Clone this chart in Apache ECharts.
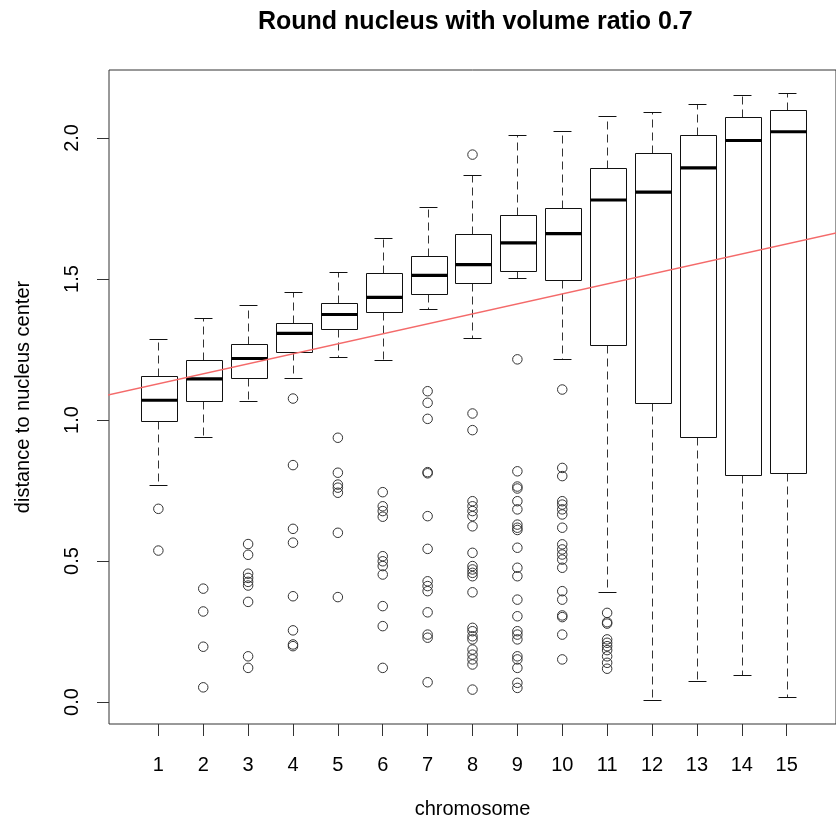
<!DOCTYPE html>
<html>
<head>
<meta charset="utf-8">
<title>Round nucleus with volume ratio 0.7</title>
<script src="https://cdn.jsdelivr.net/npm/echarts@6/dist/echarts.min.js"></script>
<style>
  html, body { margin: 0; padding: 0; background: #fff; }
  #chart { width: 836px; height: 824px; }
</style>
</head>
<body>
<div id="chart"></div>
<script>
// Per-chromosome box statistics (distance to nucleus center)
const chromosomes   = [1, 2, 3, 4, 5, 6, 7, 8, 9, 10, 11, 12, 13, 14, 15];
const lowerWhisker  = [0.768, 0.939, 1.069, 1.150, 1.224, 1.211, 1.392, 1.291, 1.502, 1.217, 0.389, 0.006, 0.073, 0.096, 0.018];
const lowerHinge    = [0.998, 1.067, 1.150, 1.242, 1.321, 1.382, 1.448, 1.486, 1.528, 1.498, 1.265, 1.061, 0.940, 0.804, 0.813];
const medians       = [1.070, 1.146, 1.218, 1.307, 1.374, 1.435, 1.513, 1.551, 1.628, 1.661, 1.780, 1.808, 1.894, 1.991, 2.022];
const upperHinge    = [1.155, 1.211, 1.270, 1.345, 1.416, 1.520, 1.581, 1.660, 1.726, 1.750, 1.894, 1.948, 2.011, 2.075, 2.099];
const upperWhisker  = [1.288, 1.362, 1.406, 1.455, 1.524, 1.644, 1.756, 1.868, 2.012, 2.024, 2.077, 2.093, 2.119, 2.151, 2.158];

// Points beyond the whiskers, one list per chromosome
const outliers = [
  [0.685, 0.537],
  [0.402, 0.321, 0.196, 0.052],
  [0.560, 0.522, 0.455, 0.440, 0.426, 0.413, 0.355, 0.162, 0.121],
  [1.076, 0.840, 0.614, 0.565, 0.375, 0.254, 0.204, 0.198],
  [0.937, 0.813, 0.771, 0.760, 0.742, 0.600, 0.372],
  [0.744, 0.694, 0.677, 0.657, 0.517, 0.499, 0.482, 0.452, 0.340, 0.269, 0.121],
  [1.102, 1.061, 1.004, 0.815, 0.811, 0.659, 0.543, 0.428, 0.411, 0.393, 0.318, 0.239, 0.228, 0.070],
  [1.941, 1.023, 0.964, 0.712, 0.694, 0.677, 0.659, 0.623, 0.529, 0.482, 0.470, 0.458, 0.446, 0.389, 0.263, 0.251, 0.233, 0.222, 0.186, 0.168, 0.151, 0.133, 0.044],
  [1.215, 0.818, 0.764, 0.757, 0.712, 0.683, 0.629, 0.618, 0.610, 0.547, 0.476, 0.446, 0.363, 0.304, 0.251, 0.239, 0.222, 0.162, 0.151, 0.121, 0.068, 0.050],
  [1.108, 0.830, 0.801, 0.712, 0.700, 0.683, 0.665, 0.618, 0.559, 0.541, 0.523, 0.505, 0.476, 0.393, 0.363, 0.307, 0.301, 0.239, 0.151],
  [0.316, 0.283, 0.278, 0.222, 0.210, 0.198, 0.184, 0.162, 0.139, 0.118],
  [], [], [], []
];

// Fitted trend of distance against chromosome index
const trendIntercept = 1.0932;
const trendSlope = 0.03537;

// Axis ticks
const xTicks = [1, 2, 3, 4, 5, 6, 7, 8, 9, 10, 11, 12, 13, 14, 15];
const yTicks = [0, 0.5, 1, 1.5, 2];

const X_MIN = -0.1, X_MAX = 16.1;
const Y_MIN = -0.078, Y_MAX = 2.241;
const BOX_WIDTH = 0.8;
const FONT = '"Liberation Sans", Arial, Helvetica, sans-serif';

const boxData = chromosomes.map((c, i) => [c, lowerWhisker[i], lowerHinge[i], medians[i], upperHinge[i], upperWhisker[i]]);
const outlierData = [];
outliers.forEach((list, i) => list.forEach(v => outlierData.push([chromosomes[i], v])));
const trendData = [X_MIN - 1, X_MAX + 1].map(x => [x, trendIntercept + trendSlope * x]);

function renderBox(params, api) {
  const x = api.value(0);
  const half = api.size([BOX_WIDTH, 0])[0] / 2;
  const cap = half / 2;
  const cx = Math.round(api.coord([x, 0])[0]) + 0.5;
  const y = v => Math.round(api.coord([x, v])[1]) + 0.5;
  const yLo = y(api.value(1)), yQ1 = y(api.value(2)), yMed = api.coord([x, api.value(3)])[1];
  const yQ3 = y(api.value(4)), yHi = y(api.value(5));
  const left = Math.round(cx - half) + 0.5;
  const width = Math.round(2 * half);
  const solid = { stroke: '#111', lineWidth: 1, fill: null };
  const dashed = { stroke: '#333', lineWidth: 1, lineDash: [8, 5], fill: null };
  return {
    type: 'group',
    children: [
      { type: 'line', shape: { x1: cx, y1: yQ3, x2: cx, y2: yHi }, style: dashed },
      { type: 'line', shape: { x1: cx, y1: yQ1, x2: cx, y2: yLo }, style: dashed },
      { type: 'line', shape: { x1: cx - cap, y1: yHi, x2: cx + cap, y2: yHi }, style: solid },
      { type: 'line', shape: { x1: cx - cap, y1: yLo, x2: cx + cap, y2: yLo }, style: solid },
      { type: 'rect', shape: { x: left, y: yQ3, width: width, height: yQ1 - yQ3 }, style: solid },
      { type: 'line', shape: { x1: left, y1: yMed, x2: left + width, y2: yMed }, style: { stroke: '#000', lineWidth: 3.2 } }
    ]
  };
}

const chart = echarts.init(document.getElementById('chart'), null, { renderer: 'canvas' });
chart.setOption({
  backgroundColor: '#fff',
  animation: false,
  title: {
    text: 'Round nucleus with volume ratio 0.7',
    left: 253,
    top: 5,
    textStyle: { fontFamily: FONT, fontSize: 25, fontWeight: 'bold', color: '#000' }
  },
  grid: {
    left: 109, top: 70, right: -6, bottom: 100,
    show: true, borderColor: '#333', borderWidth: 1, backgroundColor: 'transparent'
  },
  xAxis: {
    type: 'value',
    min: X_MIN, max: X_MAX,
    name: 'chromosome',
    nameLocation: 'middle',
    nameGap: 75,
    nameTextStyle: { fontFamily: FONT, fontSize: 20, color: '#000' },
    axisLine: { show: false, onZero: false },
    splitLine: { show: false },
    axisTick: { show: true, length: 12, inside: false, customValues: xTicks, lineStyle: { color: '#333', width: 1 } },
    axisLabel: { customValues: xTicks, margin: 31, fontFamily: FONT, fontSize: 20, color: '#000' }
  },
  yAxis: {
    type: 'value',
    min: Y_MIN, max: Y_MAX,
    name: 'distance to nucleus center',
    nameLocation: 'middle',
    nameGap: 76,
    nameRotate: 90,
    nameTextStyle: { fontFamily: FONT, fontSize: 20, color: '#000' },
    axisLine: { show: false, onZero: false },
    splitLine: { show: false },
    axisTick: { show: true, length: 12, inside: false, customValues: yTicks, lineStyle: { color: '#333', width: 1 } },
    axisLabel: {
      customValues: yTicks, rotate: 90, margin: 27,
      fontFamily: FONT, fontSize: 20, color: '#000',
      formatter: v => Number(v).toFixed(1)
    }
  },
  series: [
    {
      type: 'custom',
      name: 'boxes',
      renderItem: renderBox,
      data: boxData,
      encode: { x: 0, y: [1, 2, 3, 4, 5] },
      z: 2
    },
    {
      type: 'scatter',
      name: 'outliers',
      data: outlierData,
      symbol: 'circle',
      symbolSize: 9.5,
      itemStyle: { color: 'rgba(0,0,0,0)', borderColor: '#333', borderWidth: 1, opacity: 1 },
      z: 3
    },
    {
      type: 'line',
      name: 'trend',
      data: trendData,
      showSymbol: false,
      lineStyle: { color: '#f46a6a', width: 1.5 },
      z: 4
    }
  ]
});
</script>
</body>
</html>
